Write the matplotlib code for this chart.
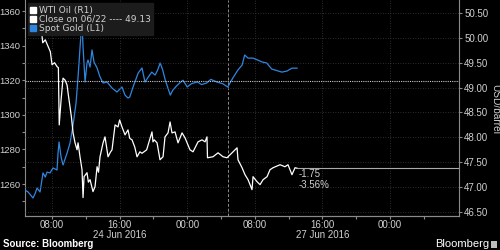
"""WTI oil vs spot gold, Bloomberg-style dark intraday chart."""

import matplotlib

matplotlib.use("Agg")
import matplotlib.pyplot as plt
from matplotlib.lines import Line2D
from matplotlib.patches import Rectangle
from matplotlib.ticker import FixedLocator, MultipleLocator

plt.rcParams["font.family"] = ["Liberation Sans", "DejaVu Sans"]

# x = hours since 24 Jun 2016 00:00, weekend gap squeezed out (session break ~28.8)
gold_t = [4.8, 5.16, 5.75, 6.0, 6.23, 6.58, 6.93, 7.2, 7.41, 7.76, 8.12, 8.59, 8.71,
          8.83, 9.07, 9.3, 9.78, 10.13, 10.49, 10.84, 11.08, 11.43, 11.55, 11.67,
          11.91, 12.14, 12.26, 12.5, 12.73, 12.97, 13.33, 13.68, 14.04, 14.51, 15.1,
          15.69, 16.28, 16.64, 16.99, 17.2, 17.59, 18.2, 18.65, 19.0, 19.4, 19.8,
          20.2, 20.5, 20.8, 21.1, 21.4, 22.0, 22.3, 22.7, 23.1, 23.5, 24.0, 24.5,
          25.2, 25.7, 26.3, 26.8, 27.5, 28.2, 28.8, 29.4, 30.0, 30.5, 30.8, 31.2,
          31.8, 32.9, 33.4, 34.0, 35.2, 35.8, 36.4, 37.0]
gold = [1256.5, 1255.4, 1251.9, 1254.5, 1257.7, 1255.4, 1266.4, 1264.0, 1266.9,
        1266.4, 1269.3, 1268.1, 1277.9, 1284.3, 1275.6, 1271.0, 1277.9, 1283.7,
        1294.1, 1306.8, 1321.9, 1347.3, 1353.1, 1339.2, 1319.0, 1330.0, 1331.7,
        1327.6, 1337.5, 1330.5, 1327.1, 1321.9, 1318.4, 1319.0, 1315.5, 1313.2,
        1316.1, 1311.4, 1309.7, 1310.3, 1316.1, 1324.2, 1327.1, 1319.0, 1321.9,
        1324.7, 1323.0, 1325.9, 1330.0, 1325.9, 1320.1, 1311.4, 1314.3, 1316.5,
        1318.4, 1320.0, 1316.1, 1318.0, 1319.0, 1317.5, 1318.4, 1320.5, 1319.0,
        1318.0, 1316.1, 1321.3, 1325.9, 1328.8, 1334.6, 1332.8, 1332.8, 1330.5,
        1330.0, 1326.5, 1324.7, 1325.3, 1327.0, 1327.0]

wti_t = [6.3, 6.8, 6.9, 7.2, 7.4, 7.8, 8.0, 8.3, 8.6, 8.75, 8.85, 9.07, 9.3, 9.54,
         9.78, 9.9, 10.13, 10.3, 10.49, 10.72, 10.96, 11.08, 11.31, 11.55, 11.67,
         11.79, 12.14, 12.3, 12.5, 12.85, 13.09, 13.33, 13.5, 13.68, 14.04, 14.27,
         14.63, 14.9, 15.1, 15.46, 15.81, 16.0, 16.28, 16.64, 16.99, 17.2, 17.47,
         17.8, 18.06, 18.4, 18.65, 19.2, 19.83, 19.95, 20.1, 20.43, 20.78, 21.14,
         21.37, 21.73, 21.97, 22.2, 22.56, 22.91, 23.39, 23.74, 24.33, 24.69, 25.28,
         25.75, 26.11, 26.34, 26.4, 27.05, 27.65, 28.24, 28.71, 29.07, 29.9, 30.01,
         30.49, 30.84, 31.2, 31.67, 31.79, 32.26, 32.62, 32.98, 33.45, 33.8, 34.16,
         34.99, 35.57, 35.93, 36.4, 36.76, 37.0]
wti = [50.16, 50.06, 49.90, 49.96, 49.88, 49.72, 49.46, 49.50, 49.42, 49.40, 48.25,
       48.75, 49.19, 49.15, 49.05, 48.89, 48.61, 48.40, 48.09, 47.89, 47.75, 47.89,
       47.61, 47.35, 46.79, 47.21, 47.29, 47.10, 47.15, 46.91, 47.01, 47.41, 47.30,
       47.61, 47.89, 48.01, 47.61, 47.70, 47.75, 48.25, 48.21, 48.35, 48.21, 48.05,
       48.15, 47.98, 47.95, 47.80, 47.61, 47.71, 47.68, 47.75, 48.11, 47.91, 47.95,
       47.89, 47.55, 47.61, 48.01, 48.09, 48.31, 48.09, 48.11, 47.89, 48.09, 47.99,
       47.75, 47.71, 47.91, 47.95, 47.91, 48.01, 47.59, 47.61, 47.69, 47.61, 47.59,
       47.65, 47.79, 47.55, 47.39, 47.25, 47.15, 46.95, 47.21, 47.11, 47.05, 47.15,
       47.21, 47.35, 47.39, 47.45, 47.41, 47.45, 47.25, 47.39, 47.38]

wti_prev_close = 49.13
change_text = ["-1.75", "-3.56%"]

tick_pos = [8, 16, 24, 32, 40, 48]
tick_labels = ["08:00", "16:00", "00:00", "08:00", "16:00", "00:00"]
date_labels = [(16, "24 Jun 2016"), (40, "27 Jun 2016")]
session_break = 28.8

BG = "black"
TXT = "#d0d0d0"
SPINE = "#8a8a8a"
BLUE = "#2f86e0"

fig = plt.figure(figsize=(5, 2.5), dpi=100, facecolor=BG)
ax = fig.add_axes([0.05, 0.136, 0.868, 0.864], facecolor=BG)
ax2 = ax.twinx()

ax.set_xlim(4.8, 56.17)
ax.set_ylim(1241.5, 1366.4)
ax2.set_ylim(46.42, 50.76)

# grid: vertical at major x ticks, horizontal following the right axis
for x in tick_pos:
    ax.axvline(x, color="#3c3c3c", lw=0.6, ls=(0, (1, 2)), zorder=0)
ax2.yaxis.set_major_locator(MultipleLocator(0.5))
for y in [46.5 + 0.5 * i for i in range(9)]:
    ax2.axhline(y, color="#3c3c3c", lw=0.6, ls=(0, (1, 2)), zorder=0)
ax.axvline(session_break, color="#8c8c8c", lw=0.7, ls=(0, (3, 2)), zorder=1)

ax.plot(gold_t, gold, color=BLUE, lw=0.9, zorder=3)
ax2.plot(wti_t, wti, color="white", lw=0.9, zorder=3)

ax2.axhline(wti_prev_close, color="#c8c8c8", lw=0.8, ls=(0, (1, 1)), zorder=2)
ax2.hlines(wti[-1], wti_t[-1], 56.17, color="#aaaaaa", lw=0.8, zorder=2)
ax2.text(wti_t[-1] + 0.15, 47.27, change_text[0], color=TXT, fontsize=7, va="center")
ax2.text(wti_t[-1] + 0.15, 47.05, change_text[1], color=TXT, fontsize=7, va="center")

# axes styling
for a in (ax, ax2):
    a.spines["top"].set_visible(False)
    for side in ("left", "bottom", "right"):
        a.spines[side].set_color(SPINE)
        a.spines[side].set_linewidth(0.8)
ax.spines["right"].set_visible(False)
ax2.spines["left"].set_visible(False)

ax.xaxis.set_major_locator(FixedLocator(tick_pos))
ax.set_xticklabels(tick_labels)
ax.xaxis.set_minor_locator(FixedLocator([12, 20, 28, 36, 44, 52]))
ax.yaxis.set_major_locator(MultipleLocator(20))
ax.yaxis.set_minor_locator(MultipleLocator(10))
ax.tick_params(axis="x", which="major", colors=SPINE, labelcolor=TXT,
               labelsize=7, length=2.5, width=0.8, pad=0.5)
ax.tick_params(axis="y", which="major", colors=SPINE, labelcolor=TXT,
               labelsize=6.8, length=2.5, width=0.8, pad=0.8)
ax.tick_params(axis="both", which="minor", colors=SPINE, length=2, width=0.8)
ax2.tick_params(axis="y", colors=SPINE, labelcolor=TXT, labelsize=7,
                length=2.5, width=0.8, pad=1.2)
ax2.yaxis.set_major_formatter(matplotlib.ticker.FormatStrFormatter("%.2f"))

for x, lab in date_labels:
    ax.text(x, -0.086, lab, transform=ax.get_xaxis_transform(), ha="center",
            va="center", color=TXT, fontsize=7)

# legend box
handles = [
    Line2D([], [], marker="s", ls="none", color="white", markersize=4.5),
    Line2D([], [], marker="s", ls="none", color="white", markersize=4.5),
    Line2D([], [], marker="s", ls="none", color=BLUE, markersize=4.5),
]
labels = ["WTI Oil (R1)", "Close on 06/22 ---- 49.13", "Spot Gold (L1)"]
leg = ax2.legend(handles, labels, loc="upper left", bbox_to_anchor=(0.056, 0.988),
                 bbox_transform=fig.transFigure, frameon=True,
                 prop={"family": "DejaVu Sans", "size": 6.5},
                 fancybox=False, facecolor="#1c1c1c", edgecolor="#1c1c1c",
                 framealpha=1, handlelength=0.6, handletextpad=0.3,
                 labelspacing=0.0, borderpad=0.3, borderaxespad=0)
for t in leg.get_texts():
    t.set_color(TXT)
leg.set_zorder(10)

fig.text(0.99, 0.564, "USD/barrel", rotation=270, ha="center", va="center",
         color=TXT, fontsize=7.3)
fig.text(0.006, 0.024, "Source: Bloomberg", color="white", fontsize=7,
         fontweight="bold", va="center")
fig.text(0.978, 0.024, "Bloomberg", color="white", fontsize=8, ha="right",
         va="center")
fig.patches.append(Rectangle((0.982, 0.01), 0.012, 0.028, transform=fig.transFigure,
                             facecolor="#bdbdbd", edgecolor="none"))

fig.savefig("out.png", dpi=100, facecolor=BG)
plt.close(fig)
